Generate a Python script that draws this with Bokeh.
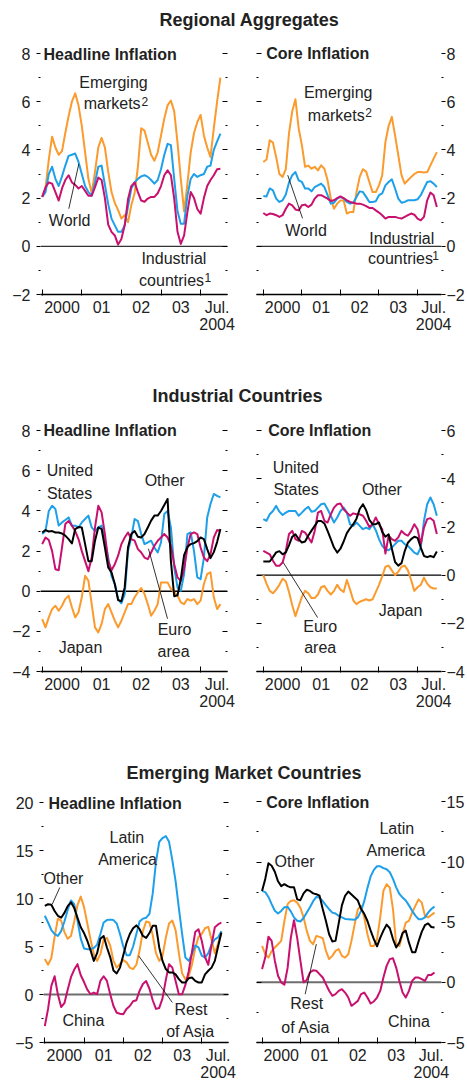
from bokeh.plotting import figure
from bokeh.models import Range1d, LinearAxis, FixedTicker, Span
from bokeh.layouts import column, row
from bokeh.embed import file_html
from bokeh.resources import INLINE
from bokeh.core.properties import value

FONT = "Liberation Sans"
TXT = "#222222"
ORANGE = "#FB9A2D"
BLUE = "#1E9FEA"
MAGENTA = "#C8106E"
BLACK = "#000000"

# ---------------- data (monthly, Jan 2000 .. Jul 2004) ----------------
months = list(range(55))
year_starts = [0, 12, 24, 36, 48]
label_ticks = [6, 18, 30, 42, 53]
year_labels = ["2000", "01", "02", "03", "Jul.\n2004"]

# Regional aggregates – headline
emerging_headline = [2.05, 2.4, 3.6, 4.55, 4.1, 3.8, 3.95, 4.7, 5.4, 6.0,
                     6.35, 5.85, 5.0, 3.9, 2.8, 2.2, 3.1, 4.1, 4.5, 4.1,
                     3.1, 2.25, 1.8, 1.5, 1.15, 1.3, 1.0, 1.7, 2.2, 3.3,
                     4.9, 4.8, 4.3, 3.8, 3.55, 3.9, 4.6, 5.3, 5.85, 6.05,
                     5.6, 4.3, 2.8, 1.45, 2.6, 3.9, 4.7, 5.15, 5.45, 4.6,
                     4.1, 3.7, 4.9, 6.0, 7.0]
world_headline = [2.05, 2.25, 3.0, 3.3, 2.8, 2.5, 2.9, 3.35, 3.75, 3.8,
                  3.85, 3.5, 3.0, 2.5, 2.25, 2.1, 2.65, 3.3, 3.35, 2.55,
                  1.75, 1.15, 0.87, 0.6, 0.6, 0.87, 1.65, 2.4, 2.65, 2.8,
                  2.9, 2.95, 2.88, 2.75, 2.6, 2.75, 3.2, 3.8, 4.25, 4.2,
                  2.8, 1.45, 0.94, 0.94, 2.1, 2.8, 3.0, 2.88, 2.95, 3.0,
                  3.3, 3.35, 4.0, 4.35, 4.68]
industrial_headline = [2.05, 2.45, 2.65, 2.6, 2.25, 1.9, 2.4, 2.75, 2.95, 2.65,
                       2.55, 2.4, 2.5, 2.3, 2.1, 2.1, 2.45, 2.85, 2.75, 2.0,
                       0.9, 0.6, 0.45, 0.07, 0.3, 0.87, 1.95, 2.5, 2.65, 2.25,
                       1.9, 1.85, 1.98, 2.05, 2.05, 2.2, 2.5, 2.95, 3.15, 2.95,
                       1.98, 0.6, 0.1, 0.45, 1.42, 2.25, 2.0, 1.55, 1.35, 2.0,
                       2.5, 2.75, 2.95, 3.2, 3.22]
# Regional aggregates – core
emerging_core = [3.5, 3.6, 4.4, 4.3, 3.7, 3.0, 2.88, 3.2, 4.7, 5.6,
                 6.1, 4.9, 4.2, 3.3, 3.35, 3.22, 3.3, 3.15, 3.36, 3.22,
                 2.74, 1.98, 1.56, 1.77, 1.9, 1.9, 1.36, 1.42, 1.42, 2.25,
                 2.88, 3.2, 3.1, 2.67, 2.25, 2.25, 2.53, 2.95, 4.33, 5.0,
                 5.37, 4.6, 3.78, 2.95, 2.6, 2.74, 2.88, 3.0, 3.08, 3.08,
                 3.06, 3.08, 3.36, 3.64, 3.91]
world_core = [2.09, 2.07, 2.4, 2.32, 1.98, 1.84, 1.91, 2.15, 2.65, 2.95,
              3.08, 2.74, 2.67, 2.4, 2.4, 2.28, 2.46, 2.53, 2.6, 2.46,
              2.12, 1.77, 1.81, 1.98, 2.05, 1.98, 1.84, 1.77, 1.81, 2.05,
              2.28, 2.25, 2.05, 1.84, 1.84, 1.87, 2.12, 2.2, 2.53, 2.67,
              2.78, 2.4, 1.98, 1.81, 1.84, 1.91, 1.91, 1.91, 1.95, 2.12,
              2.4, 2.67, 2.7, 2.6, 2.46]
industrial_core = [1.38, 1.29, 1.36, 1.34, 1.29, 1.22, 1.29, 1.56, 1.77, 1.7,
                   1.53, 1.49, 1.7, 1.73, 1.63, 1.73, 1.98, 2.12, 2.12, 2.05,
                   1.98, 1.88, 1.91, 2.0, 2.07, 2.0, 1.91, 1.84, 1.81, 1.77,
                   1.77, 1.73, 1.67, 1.59, 1.59, 1.49, 1.4, 1.29, 1.15, 1.22,
                   1.22, 1.22, 1.18, 1.15, 1.22, 1.29, 1.36, 1.31, 1.15, 1.08,
                   1.22, 1.91, 2.23, 2.12, 1.63]

# Industrial countries – headline
us_headline = [2.85, 3.0, 4.0, 4.26, 4.1, 3.27, 3.43, 3.55, 3.68, 3.27,
               3.27, 3.18, 3.43, 3.6, 3.77, 3.18, 3.0, 3.18, 3.27, 2.6,
               1.68, 0.77, 0.36, -0.39, -0.6, -0.14, 2.0, 2.68, 3.6, 3.5,
               2.85, 2.35, 2.43, 2.52, 2.18, 1.93, 2.43, 3.85, 4.0, 3.18,
               1.19, 0.19, 0.02, 0.86, 2.85, 2.93, 2.0, 0.69, 0.6, 1.68,
               3.68, 4.35, 4.85, 4.75, 4.68]
euro_headline = [2.35, 2.68, 2.55, 2.0, 1.1, 1.05, 2.18, 3.35, 3.5, 3.27,
                 3.0, 2.6, 2.0, 1.5, 1.0, 1.68, 3.18, 4.26, 3.93, 2.85,
                 1.5, 1.05, 1.35, 1.77, 2.35, 2.68, 2.93, 2.6, 2.52, 2.1,
                 1.93, 1.68, 1.6, 1.93, 2.27, 2.52, 2.68, 2.85, 2.68, 2.27,
                 1.35, 0.69, 0.52, 1.1, 2.18, 2.85, 2.93, 2.85, 2.18, 1.68,
                 1.5, 1.85, 2.68, 3.05, 3.0]
other_ind_headline = [2.93, 3.05, 2.98, 3.0, 2.93, 2.93, 2.88, 2.77, 2.6, 2.38,
                      3.1, 3.2, 3.18, 2.35, 1.5, 1.5, 2.52, 3.18, 3.1, 2.18,
                      1.19, 0.94, 0.36, -0.44, -0.5, 0.19, 2.18, 2.85, 3.0, 2.72,
                      2.68, 2.85, 3.18, 3.52, 3.77, 3.77, 4.0, 4.3, 4.6, 1.5,
                      -0.25, -0.2, 0.6, 1.8, 2.2, 2.35, 2.4, 2.5, 2.68, 2.6,
                      2.1, 1.65, 1.95, 2.45, 3.1]
japan_headline = [-1.39, -1.8, -1.3, -0.89, -0.72, -0.97, -0.72, -0.39, -0.22, -0.8,
                  -1.3, -1.05, -0.3, 0.77, 0.52, -0.64, -1.8, -2.05, -1.63, -0.89,
                  -0.64, -1.05, -1.47, -1.8, -1.47, -1.05, -0.64, -0.64, -0.3, -0.05,
                  0.16, -0.14, -0.64, -1.22, -0.97, -0.64, 0.44, 0.44, 0.44, 0.11,
                  -0.05, -0.22, -0.55, -0.64, -0.39, -0.47, -0.39, -0.64, -0.47, 0.36,
                  0.86, 0.94, -0.3, -0.89, -0.64]
# Industrial countries – core
us_core = [2.33, 2.26, 2.53, 2.67, 2.88, 2.64, 2.5, 2.6, 2.67, 2.67,
           2.67, 2.47, 2.6, 2.74, 2.84, 2.64, 2.67, 2.81, 2.95, 2.98,
           2.74, 2.47, 2.19, 2.4, 2.67, 2.81, 2.6, 2.11, 2.05, 2.19,
           2.05, 1.91, 1.98, 1.91, 2.12, 1.87, 1.5, 1.22, 1.08, 1.04,
           1.15, 1.29, 1.43, 1.43, 1.29, 1.22, 1.08, 0.94, 0.87, 1.15,
           2.26, 2.95, 3.23, 2.95, 2.47]
euro_core = [1.01, 0.94, 0.87, 0.6, 0.39, 0.39, 0.53, 1.01, 1.71, 1.84,
             1.5, 1.43, 1.84, 1.77, 1.57, 1.36, 1.84, 2.6, 2.67, 2.26,
             2.19, 2.53, 2.81, 2.95, 2.98, 2.74, 2.6, 2.47, 2.57, 2.53,
             2.53, 2.47, 2.26, 2.0, 2.12, 2.4, 2.12, 1.91, 0.9, 1.64,
             1.5, 1.43, 1.57, 1.84, 1.71, 1.64, 1.84, 2.12, 1.91, 1.29,
             1.98, 2.33, 2.37, 2.26, 1.71]
other_ind_core = [0.57, 0.57, 0.57, 0.75, 0.95, 1.0, 0.87, 0.95, 1.25, 1.6,
                  1.7, 1.5, 1.36, 1.4, 1.65, 1.85, 2.05, 2.25, 2.25, 2.15,
                  1.84, 1.5, 1.15, 0.94, 1.1, 1.4, 1.75, 1.95, 2.12, 2.35,
                  2.75, 2.95, 2.7, 2.3, 2.12, 2.12, 2.19, 1.8, 1.6, 1.7,
                  1.1, 0.55, 0.4, 0.5, 1.0, 1.35, 1.5, 1.6, 1.55, 1.15,
                  0.8, 0.75, 0.8, 0.75, 0.98]
japan_core = [0.0, -0.35, -0.65, -0.75, -0.6, -0.4, -0.15, -0.25, -0.7, -1.25,
              -1.7, -1.3, -0.9, -0.65, -0.75, -0.95, -0.95, -0.8, -0.5, -0.45,
              -0.65, -0.8, -0.65, -0.4, -0.6, -0.7, -0.2, -0.6, -1.05, -1.2,
              -1.1, -1.05, -1.0, -1.05, -1.0, -0.7, -0.4, -0.05, 0.35, 0.4,
              0.2, 0.0, 0.15, 0.35, 0.4, 0.2, -0.2, -0.65, -0.5, -0.4,
              -0.1, -0.35, -0.5, -0.55, -0.55]

# Emerging market countries – headline
latin_headline = [8.2, 7.5, 6.7, 6.3, 6.1, 6.6, 7.6, 8.8, 9.8, 9.4,
                  7.7, 5.8, 4.8, 4.72, 4.72, 4.85, 5.2, 6.3, 7.5, 7.75,
                  7.8, 7.75, 7.4, 6.3, 5.0, 4.1, 4.1, 5.0, 6.3, 7.6,
                  7.9, 8.0, 8.4, 10.5, 13.8, 15.9, 16.3, 16.5, 15.9, 14.0,
                  11.8, 9.0, 6.3, 3.85, 3.5, 4.2, 5.1, 4.9, 4.05, 3.85,
                  4.3, 5.2, 5.75, 5.94, 6.6]
china_headline = [-3.3, -1.5, 0.9, 1.9, 0.0, -1.3, -0.9, 0.5, 1.8, 2.6,
                  3.16, 2.0, 1.3, 0.5, 0.03, 0.2, 0.03, 1.42, 1.9, 1.42,
                  0.03, -1.2, -1.9, -2.0, -2.05, -1.5, -1.2, -0.7, -0.6, 0.4,
                  1.1, 1.4, 0.6, -0.6, -1.5, -1.4, -0.4, 1.5, 3.16, 2.8,
                  1.4, 0.03, 0.03, 1.0, 2.4, 4.4, 6.5, 6.8, 5.6, 3.9,
                  3.1, 5.2, 7.0, 7.3, 7.5]
other_em_headline = [9.24, 9.4, 9.34, 8.7, 8.2, 8.0, 8.5, 9.2, 9.6, 9.0,
                     8.0, 7.0, 6.4, 5.6, 4.6, 3.5, 4.3, 5.8, 6.1, 4.9,
                     3.9, 2.5, 2.2, 2.8, 4.1, 5.4, 6.3, 6.9, 7.2, 6.8,
                     6.1, 5.9, 6.4, 7.15, 7.15, 4.9, 3.5, 2.65, 2.3, 2.3,
                     2.1, 1.6, 1.25, 1.25, 1.7, 1.77, 1.42, 1.25, 1.25, 2.1,
                     2.47, 2.8, 3.5, 5.0, 6.46]
rest_asia_headline = [3.7, 3.1, 3.8, 6.0, 7.9, 7.7, 6.5, 5.8, 6.1, 7.6,
                      9.3, 10.2, 9.1, 7.4, 5.7, 4.2, 3.5, 4.2, 5.7, 5.9,
                      5.1, 3.5, 2.8, 3.2, 3.6, 3.35, 2.8, 2.65, 3.1, 4.6,
                      6.6, 7.6, 7.5, 6.2, 4.3, 3.5, 4.0, 5.9, 7.4, 7.7,
                      6.7, 4.3, 2.2, 1.6, 1.9, 3.1, 4.8, 6.0, 6.3, 6.9,
                      7.05, 5.7, 4.3, 5.3, 6.4]
# Emerging market countries – core
latin_core = [7.6, 7.5, 7.1, 6.5, 5.95, 5.72, 5.94, 6.25, 6.27, 5.9,
              5.4, 5.12, 5.06, 5.35, 5.8, 6.25, 6.75, 7.1, 7.05, 6.75,
              6.4, 6.08, 5.8, 5.72, 5.53, 5.4, 5.27, 5.25, 5.23, 5.2,
              5.4, 5.94, 6.75, 7.85, 8.8, 9.35, 9.65, 9.65, 9.5, 9.4,
              9.15, 8.6, 7.9, 7.35, 7.05, 6.8, 6.4, 5.95, 5.55, 5.25,
              5.25, 5.4, 5.8, 6.1, 6.3]
china_core = [1.1, 2.06, 3.8, 3.45, 1.8, 0.55, 0.0, -0.2, 1.2, 3.7,
              5.17, 3.7, 1.8, 0.0, 0.2, 0.82, 1.0, 0.96, 0.68, 0.4,
              -0.15, -0.7, -1.12, -0.98, -0.71, -0.57, -0.85, -1.26, -1.95, -1.76,
              -1.54, -0.98, -0.85, -1.26, -1.76, -1.59, -1.26, -0.71, 0.4, 1.37,
              1.93, 2.0, 1.23, 0.12, -0.85, -1.26, -0.71, 0.12, 0.4, 0.4,
              0.26, 0.12, 0.62, 0.62, 0.82]
other_em_core = [7.6, 8.6, 9.9, 9.7, 9.2, 8.4, 8.0, 8.16, 8.0, 7.9,
                 7.9, 6.9, 6.83, 7.4, 7.7, 7.6, 7.4, 7.33, 7.2, 6.1,
                 5.1, 4.0, 3.4, 3.45, 4.9, 6.4, 7.2, 7.55, 7.3, 7.05,
                 6.8, 6.1, 5.7, 5.1, 4.3, 3.6, 3.0, 3.7, 4.3, 4.8,
                 4.5, 3.6, 2.9, 3.3, 4.1, 4.3, 3.3, 2.5, 2.5, 3.4,
                 4.2, 4.75, 4.9, 4.6, 4.56]
rest_asia_core = [3.03, 2.34, 2.06, 2.6, 2.9, 3.17, 3.45, 5.1, 6.5, 6.77,
                  6.83, 6.63, 6.2, 5.4, 4.28, 3.45, 3.17, 3.86, 3.78, 3.67,
                  2.62, 1.93, 2.2, 2.62, 2.76, 2.2, 2.06, 2.34, 3.45, 4.83,
                  6.08, 6.36, 5.4, 4.0, 3.03, 3.03, 3.58, 5.4, 7.6, 8.16,
                  7.88, 6.08, 3.17, 3.03, 4.0, 4.97, 5.11, 5.8, 6.36, 6.9,
                  6.63, 5.53, 5.4, 5.6, 5.8]


def text_kw(size="16px", style="normal", align="center", baseline="middle"):
    return dict(text_font=value(FONT), text_font_size=size, text_font_style=style,
                text_align=align, text_baseline=baseline, text_color=TXT)


def y_axis(majors, minors, labels, tick_side_out, standoff):
    ax = LinearAxis(ticker=FixedTicker(ticks=majors, minor_ticks=minors),
                    axis_line_color=None,
                    major_tick_line_color=BLACK, minor_tick_line_color=BLACK,
                    major_tick_line_width=1, minor_tick_line_width=1,
                    major_label_text_font=FONT, major_label_text_font_size="16px",
                    major_label_text_color=TXT, major_label_standoff=standoff)
    if tick_side_out:
        ax.major_tick_out, ax.major_tick_in = 4, 0
        ax.minor_tick_out, ax.minor_tick_in = 2, 0
    else:
        ax.major_tick_out, ax.major_tick_in = 0, 5
        ax.minor_tick_out, ax.minor_tick_in = 0, 2
    if not labels:
        ax.major_label_overrides = {t: "" for t in majors}
    return ax


def panel(width, height, borders, xr, yr, majors, minors, side, series,
          zero_color, zero_width, title, title_xy, notes, sups, leaders):
    bl, br, bt, bb = borders
    p = figure(width=width, height=height, x_range=Range1d(*xr), y_range=Range1d(*yr),
               x_axis_type=None, y_axis_type=None, toolbar_location=None,
               output_backend="svg", min_border_left=bl, min_border_right=br,
               min_border_top=bt, min_border_bottom=bb)
    p.outline_line_color = None
    p.background_fill_color = "white"

    xa = LinearAxis(ticker=FixedTicker(ticks=label_ticks, minor_ticks=year_starts),
                    major_label_overrides=dict(zip(label_ticks, year_labels)),
                    major_tick_in=0, major_tick_out=0, minor_tick_in=5, minor_tick_out=1,
                    minor_tick_line_color=BLACK, minor_tick_line_width=1,
                    axis_line_color=BLACK, axis_line_width=1.3,
                    major_label_standoff=3, major_label_text_font=FONT,
                    major_label_text_font_size="16px", major_label_text_color=TXT,
                    major_label_text_line_height=1.05)
    p.add_layout(xa, "below")

    if side == "left":
        p.add_layout(y_axis(majors, minors, True, True, 6), "left")
        p.add_layout(y_axis(majors, minors, False, False, 0), "right")
    else:
        p.add_layout(y_axis(majors, minors, False, False, 0), "left")
        p.add_layout(y_axis(majors, minors, True, True, 1), "right")

    zl = Span(location=0, dimension="width", line_color=zero_color, line_width=zero_width)
    zl.level = "underlay"
    p.add_layout(zl)

    for vals, col in series:
        p.line(months, vals, line_color=col, line_width=2, line_join="round")

    for (x0, y0, x1, y1) in leaders:
        p.line([x0, x1], [y0, y1], line_color=BLACK, line_width=0.8)

    p.text(x=[n[1] for n in notes], y=[n[2] for n in notes], text=[n[0] for n in notes],
           **text_kw())
    if sups:
        p.text(x=[s[1] for s in sups], y=[s[2] for s in sups], text=[s[0] for s in sups],
               **text_kw(size="12px", align="left"))
    p.text(x=[title_xy[0]], y=[title_xy[1]], text=[title],
           **text_kw(size="16px", style="bold", align="left"))
    return p


def title_strip(text, h, cx, cy_top):
    t = figure(width=467, height=h, x_range=Range1d(0, 467), y_range=Range1d(0, h),
               x_axis_type=None, y_axis_type=None, toolbar_location=None,
               output_backend="svg", min_border=0)
    t.outline_line_color = None
    t.text(x=[cx], y=[h - cy_top], text=[text], **text_kw(size="18px", style="bold"))
    return t


LW, CW = 248, 219
B_L12 = (40, 21)
B_L3 = (43, 20)
B_C = (8, 21)

# ---------- Row 1: Regional Aggregates ----------
t1 = title_strip("Regional Aggregates", 37, 249, 19)
p1a = panel(LW, 335, (*B_L12, 4, 78), (-0.515, 56.15), (-2, 8.498),
            [-2, 0, 2, 4, 6, 8], [-1, 1, 3, 5, 7], "left",
            [(emerging_headline, ORANGE), (world_headline, BLUE), (industrial_headline, MAGENTA)],
            "#333333", 1.3, "Headline Inflation", (0.4, 7.95),
            [("Emerging", 21.6, 6.8), ("markets", 21.2, 5.93), ("World", 8.3, 1.08),
             ("Industrial", 39.9, -0.5), ("countries", 39.2, -1.41)],
            [("2", 30.1, 6.02), ("1", 49.2, -1.29)],
            [(8.06, 1.56, 11.1, 3.42)])
p1b = panel(CW, 335, (*B_C, 4, 78), (-2.12, 55.45), (-2, 8.498),
            [-2, 0, 2, 4, 6, 8], [-1, 1, 3, 5, 7], "right",
            [(emerging_core, ORANGE), (world_core, BLUE), (industrial_core, MAGENTA)],
            "#333333", 1.3, "Core Inflation", (0.91, 8.0),
            [("Emerging", 23.3, 6.39), ("markets", 22.7, 5.44), ("World", 13.3, 0.66),
             ("Industrial", 43.1, 0.33), ("countries", 42.7, -0.5)],
            [("2", 31.7, 5.56), ("1", 52.6, -0.37)],
            [(7.6, 2.95, 12.2, 1.16)])

# ---------- Row 2: Industrial Countries ----------
t2 = title_strip("Industrial Countries", 42, 237, 23)
p2a = panel(LW, 339, (*B_L12, 4, 82), (-0.515, 56.15), (-4, 8.61),
            [-4, -2, 0, 2, 4, 6, 8], [-3, -1, 1, 3, 5, 7], "left",
            [(japan_headline, ORANGE), (us_headline, BLUE), (euro_headline, MAGENTA),
             (other_ind_headline, BLACK)],
            BLACK, 1.3, "Headline Inflation", (0.4, 8.0),
            [("United", 8.4, 6.0), ("States", 8.3, 4.88), ("Other", 37.1, 5.5),
             ("Euro", 40.1, -1.92), ("area", 39.8, -3.0), ("Japan", 11.6, -2.8)],
            [], [(32.2, 2.12, 37.97, -1.37)])
p2b = panel(CW, 339, (*B_C, 4, 82), (-2.12, 55.45), (-4, 6.51),
            [-4, -2, 0, 2, 4, 6], [-3, -1, 1, 3, 5], "right",
            [(japan_core, ORANGE), (us_core, BLUE), (euro_core, MAGENTA), (other_ind_core, BLACK)],
            BLACK, 1.3, "Core Inflation", (1.5, 6.0),
            [("United", 10.1, 4.46), ("States", 10.2, 3.55), ("Other", 36.9, 3.55),
             ("Euro", 17.7, -2.14), ("area", 17.7, -3.0), ("Japan", 42.7, -1.48)],
            [], [(6.2, 0.53, 16.9, -1.76)])

# ---------- Row 3: Emerging Market Countries ----------
t3 = title_strip("Emerging Market Countries", 37, 243.5, 19)
p3a = panel(LW, 297, (*B_L3, 0, 45), (-0.398, 56.18), (-5, 21.25),
            [-5, 0, 5, 10, 15, 20], [-2.5, 2.5, 7.5, 12.5, 17.5], "left",
            [(rest_asia_headline, ORANGE), (latin_headline, BLUE), (china_headline, MAGENTA),
             (other_em_headline, BLACK)],
            "#6E6E6E", 2, "Headline Inflation", (1.13, 19.86),
            [("Latin", 25.1, 16.35), ("America", 25.3, 14.03), ("Other", 5.7, 12.08),
             ("Rest", 44.7, -1.6), ("of Asia", 44.6, -3.9), ("China", 11.8, -2.74)],
            [], [(4.6, 11.15, 2.3, 9.42), (28.7, 4.03, 39.0, -0.83)])
p3b = panel(CW, 297, (*B_C, 0, 45), (-1.74, 56.19), (-5, 15.95),
            [-5, 0, 5, 10, 15], [-2.5, 2.5, 7.5, 12.5], "right",
            [(rest_asia_core, ORANGE), (latin_core, BLUE), (china_core, MAGENTA),
             (other_em_core, BLACK)],
            "#6E6E6E", 2, "Core Inflation", (1.31, 14.96),
            [("Latin", 42.2, 12.78), ("America", 41.9, 10.93), ("Other", 10.2, 10.02),
             ("Rest", 14.0, -1.79), ("of Asia", 13.7, -3.76), ("China", 46.0, -3.26)],
            [], [(17.0, 3.18, 13.5, -0.98)])

layout = column(t1, row(p1a, p1b), t2, row(p2a, p2b), t3, row(p3a, p3b))
open("out.html", "w").write(file_html(layout, INLINE))
